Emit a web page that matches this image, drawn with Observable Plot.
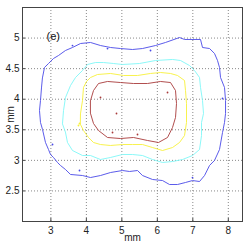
<!DOCTYPE html>
<html>
<head>
<meta charset="utf-8">
<script src="https://cdn.jsdelivr.net/npm/d3@7"></script>
<script src="https://cdn.jsdelivr.net/npm/@observablehq/plot@0.6"></script>
<style>
  html, body { margin: 0; padding: 0; background: #fff; }
  #chart { width: 245px; height: 245px; }
</style>
</head>
<body>
<div id="chart"></div>
<script>
// Contour levels (outer to inner)
const levels = ["level 1", "level 2", "level 3", "level 4"];
const levelColors = ["#4a4ae8", "#7ff7f7", "#f7f03a", "#a83a3a"];

const blueX = [2.764,2.82,2.933,3.074,3.215,3.412,3.609,3.835,4.117,4.398,4.68,4.962,5.3,5.582,5.949,6.23,6.625,6.766,7.217,7.273,7.471,7.611,7.696,7.752,7.781,7.893,7.922,7.922,7.893,7.837,7.752,7.611,7.471,7.33,7.189,6.991,6.794,6.569,6.343,6.146,5.864,5.582,5.441,5.216,5.018,4.68,4.398,4.117,3.891,3.553,3.412,3.271,3.186,3.074,2.989,2.933,2.848,2.764,2.707,2.679,2.707,2.736];
const blueY = [4.355,4.519,4.584,4.666,4.715,4.797,4.846,4.911,4.928,4.878,4.846,4.829,4.813,4.829,4.878,4.928,5.009,4.977,4.977,4.846,4.829,4.748,4.633,4.519,4.355,4.192,3.979,3.766,3.619,3.456,3.177,2.998,2.916,2.752,2.654,2.67,2.638,2.605,2.605,2.67,2.687,2.752,2.834,2.818,2.834,2.801,2.752,2.719,2.752,2.769,2.85,2.916,2.965,3.047,3.096,3.177,3.292,3.505,3.619,3.815,3.979,4.192];

const cyanX = [3.327,3.356,3.412,3.553,3.694,3.891,4.032,4.257,4.483,4.765,5.018,5.498,5.949,6.428,6.653,6.907,7.048,7.189,7.217,7.273,7.301,7.245,7.245,7.189,6.991,6.71,6.428,6.146,5.864,5.582,5.3,5.018,4.68,4.398,4.117,3.891,3.609,3.468,3.412];
const cyanY = [3.603,3.815,4.028,4.224,4.355,4.47,4.568,4.6,4.6,4.584,4.568,4.584,4.633,4.65,4.633,4.551,4.47,4.355,4.192,3.979,3.766,3.619,3.406,3.177,3.079,3.014,2.981,2.965,3.014,3.079,3.096,3.096,3.047,3.014,3.079,3.079,3.161,3.292,3.456];

const yellowX = [3.835,3.891,3.919,4.004,4.117,4.314,4.68,5.047,5.441,5.808,6.09,6.371,6.569,6.766,6.794,6.822,6.822,6.766,6.625,6.428,6.146,5.864,5.582,5.3,5.018,4.68,4.398,4.201,4.06,3.919,3.835];
const yellowY = [3.766,3.979,4.192,4.29,4.355,4.404,4.421,4.388,4.388,4.421,4.437,4.421,4.388,4.306,4.142,3.93,3.619,3.406,3.292,3.21,3.161,3.21,3.259,3.259,3.259,3.243,3.259,3.292,3.374,3.488,3.586];

const redX = [4.117,4.201,4.342,4.596,4.962,5.329,5.723,6.09,6.371,6.512,6.54,6.512,6.428,6.287,6.033,5.723,5.329,4.962,4.596,4.342,4.201,4.117];
const redY = [3.979,4.142,4.257,4.29,4.273,4.257,4.257,4.29,4.273,4.142,3.93,3.701,3.537,3.374,3.292,3.325,3.374,3.357,3.374,3.488,3.603,3.766];

// Isolated specks (level index 0..3)
const speckLevel = [3,3,3,3,3,0,0,0,0,0,0,0,2,2];
const speckX = [4.398,4.849,4.737,5.441,6.287,3.609,4.596,5.808,7.837,3.046,3.807,6.991,3.807,3.778];
const speckY = [4.028,3.766,3.456,3.423,4.11,4.878,4.829,4.797,4.012,3.259,2.834,2.719,3.603,3.57];

const xTicks = [3,4,5,6,7,8];
const yTicks = [2.5,3,3.5,4,4.5,5];
const panelLabel = "(e)";
const axisLabel = "mm";

const contours = [];
[[blueX, blueY], [cyanX, cyanY], [yellowX, yellowY], [redX, redY]].forEach(([xs, ys], k) => {
  xs.forEach((x, i) => contours.push({level: levels[k], x, y: ys[i]}));
});
const specks = speckX.map((x, i) => ({level: levels[speckLevel[i]], x, y: speckY[i]}));

const chart = Plot.plot({
  width: 245,
  height: 245,
  marginLeft: 22,
  marginRight: 3,
  marginTop: 7,
  marginBottom: 24,
  style: {fontFamily: "Liberation Sans, Arial, sans-serif", fontSize: "10px", background: "#fff", color: "#222"},
  x: {domain: [2.2, 8.4]},
  y: {domain: [2, 5.5]},
  color: {type: "ordinal", domain: levels, range: levelColors},
  marks: [
    Plot.gridX(xTicks, {stroke: "#888", strokeOpacity: 1, strokeDasharray: "1,2"}),
    Plot.gridY(yTicks, {stroke: "#888", strokeOpacity: 1, strokeDasharray: "1,2"}),
    Plot.line(contours, {x: "x", y: "y", z: "level", stroke: "level", strokeWidth: 0.9, curve: "linear-closed"}),
    Plot.dot(specks, {x: "x", y: "y", r: 0.9, fill: "level", stroke: null}),
    Plot.frame({stroke: "#444"}),
    Plot.axisX(xTicks, {tickSize: -3, tickPadding: 8, stroke: "#444", label: axisLabel, labelAnchor: "center", labelArrow: "none", labelOffset: 19, tickFormat: d => String(d)}),
    Plot.axisY(yTicks, {tickSize: -3, tickPadding: 6, stroke: "#444", label: axisLabel, labelAnchor: "center", labelArrow: "none", labelOffset: 16, tickFormat: d => String(d)}),
    Plot.text([panelLabel], {frameAnchor: "top-left", dx: 24, dy: 25, text: d => d, fontSize: 11, fill: "#111"})
  ]
});
document.getElementById("chart").appendChild(chart);
</script>
</body>
</html>
